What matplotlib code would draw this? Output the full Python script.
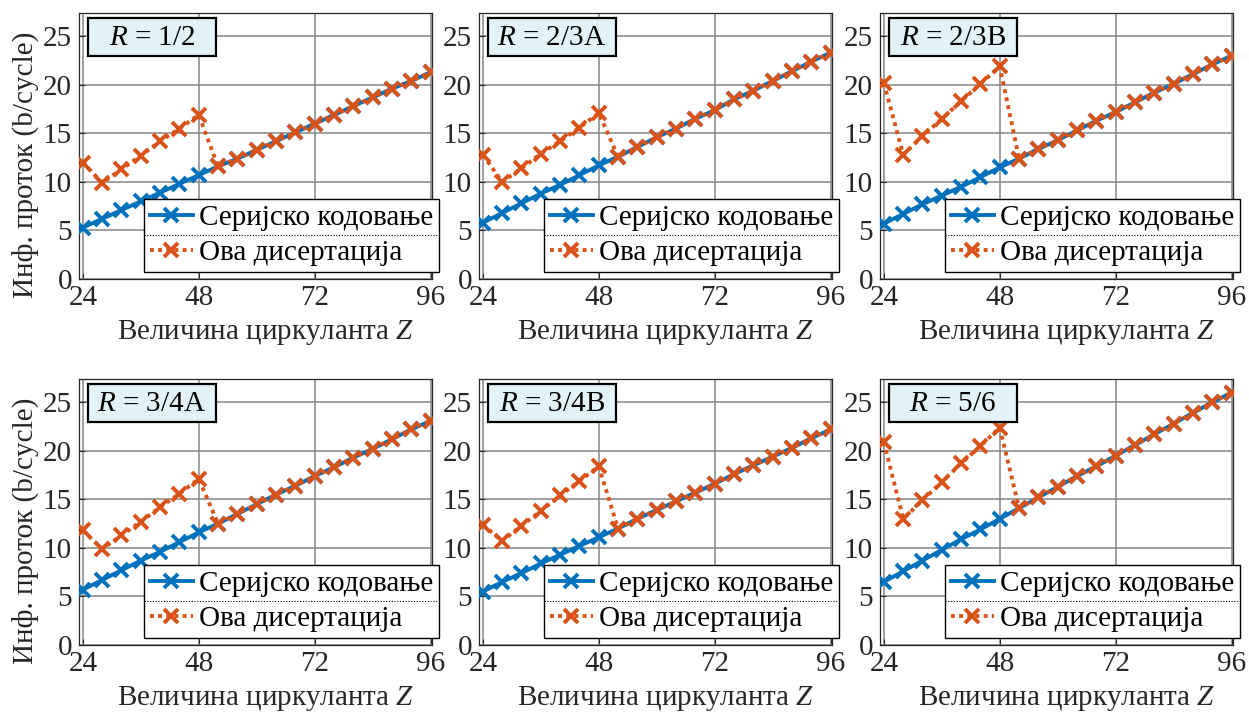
import matplotlib
matplotlib.use("Agg")
import matplotlib.pyplot as plt
from matplotlib.lines import Line2D
from matplotlib.patches import Rectangle

plt.rcParams["font.family"] = ["Liberation Serif", "DejaVu Serif"]
plt.rcParams["mathtext.fontset"] = "custom"
plt.rcParams["mathtext.rm"] = "Liberation Serif"
plt.rcParams["mathtext.it"] = "Liberation Serif:italic"

# Circulant size Z
z_values = [24, 28, 32, 36, 40, 44, 48, 52, 56, 60, 64, 68, 72, 76, 80, 84, 88, 92, 96]

rate_labels = ["1/2", "2/3A", "2/3B", "3/4A", "3/4B", "5/6"]

# Throughput (b/cycle), serial decoding
serial_1_2 = [5.3, 6.2, 7.1, 8.0, 8.9, 9.8, 10.7, 11.6, 12.4, 13.3, 14.2, 15.1, 16.0, 16.9, 17.8, 18.7, 19.6, 20.4, 21.3]
serial_2_3a = [5.8, 6.8, 7.8, 8.8, 9.7, 10.7, 11.7, 12.6, 13.6, 14.6, 15.5, 16.5, 17.4, 18.5, 19.4, 20.4, 21.4, 22.4, 23.3]
serial_2_3b = [5.7, 6.7, 7.7, 8.6, 9.5, 10.5, 11.5, 12.4, 13.4, 14.3, 15.3, 16.3, 17.2, 18.2, 19.2, 20.1, 21.1, 22.1, 23.0]
serial_3_4a = [5.7, 6.7, 7.7, 8.7, 9.6, 10.6, 11.6, 12.5, 13.5, 14.5, 15.5, 16.4, 17.4, 18.3, 19.3, 20.2, 21.2, 22.2, 23.1]
serial_3_4b = [5.5, 6.5, 7.4, 8.4, 9.3, 10.2, 11.1, 12.0, 13.0, 13.9, 14.8, 15.7, 16.6, 17.6, 18.5, 19.4, 20.3, 21.3, 22.2]
serial_5_6 = [6.5, 7.6, 8.7, 9.8, 10.9, 11.9, 13.0, 14.1, 15.2, 16.3, 17.4, 18.4, 19.5, 20.6, 21.7, 22.8, 23.9, 25.0, 26.0]

# Throughput (b/cycle), this dissertation
ova_1_2 = [12.0, 9.9, 11.3, 12.7, 14.2, 15.5, 16.9, 11.6, 12.4, 13.3, 14.2, 15.1, 16.0, 16.9, 17.8, 18.7, 19.6, 20.4, 21.3]
ova_2_3a = [12.8, 10.0, 11.4, 12.9, 14.2, 15.6, 17.1, 12.6, 13.6, 14.6, 15.5, 16.5, 17.4, 18.5, 19.4, 20.4, 21.4, 22.4, 23.3]
ova_2_3b = [20.2, 12.8, 14.7, 16.5, 18.3, 20.1, 21.9, 12.4, 13.4, 14.3, 15.3, 16.3, 17.2, 18.2, 19.2, 20.1, 21.1, 22.1, 23.0]
ova_3_4a = [11.8, 9.9, 11.3, 12.7, 14.2, 15.6, 17.1, 12.5, 13.5, 14.5, 15.5, 16.4, 17.4, 18.3, 19.3, 20.2, 21.2, 22.2, 23.1]
ova_3_4b = [12.4, 10.7, 12.3, 13.8, 15.4, 16.9, 18.4, 12.0, 13.0, 13.9, 14.8, 15.7, 16.6, 17.6, 18.5, 19.4, 20.3, 21.3, 22.2]
ova_5_6 = [20.9, 13.0, 14.9, 16.8, 18.7, 20.5, 22.4, 14.1, 15.2, 16.3, 17.4, 18.4, 19.5, 20.6, 21.7, 22.8, 23.9, 25.0, 26.0]

serial_all = [serial_1_2, serial_2_3a, serial_2_3b, serial_3_4a, serial_3_4b, serial_5_6]
ova_all = [ova_1_2, ova_2_3a, ova_2_3b, ova_3_4a, ova_3_4b, ova_5_6]

x_ticks = [24, 48, 72, 96]
y_ticks = [0, 5, 10, 15, 20, 25]

label_serial = "Серијско кодовање"
label_ova = "Ова дисертација"
x_label = "Величина циркуланта $Z$"
y_label = "Инф. проток (b/cycle)"

BLUE = "#0072BD"
ORANGE = "#D95319"
INK = "#262626"
FS = 21

W, H = 1249, 717
fig = plt.figure(figsize=(W / 100, H / 100), dpi=100)

lefts = [79, 479, 880]
tops = [13, 379]
ax_w, ax_h = 353, 266

axes = []
for i in range(6):
    r, c = divmod(i, 3)
    x0 = lefts[c] / W
    y0 = 1 - (tops[r] + ax_h) / H
    ax = fig.add_axes([x0, y0, ax_w / W, ax_h / H])
    axes.append(ax)

    ax.plot(z_values, serial_all[i], color=BLUE, lw=2.8, marker="x", ms=10, mew=2.8,
            label=label_serial, zorder=3)
    ax.plot(z_values, ova_all[i], color=ORANGE, lw=2.8, ls=(0, (1, 1.1)), marker="x",
            ms=10, mew=2.8, label=label_ova, zorder=4)

    ax.set_xlim(23.2, 96.3)
    ax.set_ylim(0, 27.4)
    ax.set_xticks(x_ticks)
    ax.set_yticks(y_ticks)
    ax.grid(True, color="#858585", lw=1.1)
    ax.set_axisbelow(True)
    ax.tick_params(direction="in", length=4, width=0.8, labelsize=FS, colors=INK)
    ax.tick_params(axis="y", pad=5)
    ax.tick_params(axis="x", pad=4)
    for s in ax.spines.values():
        s.set_color(INK)
        s.set_linewidth(0.9)

    ax.set_xlabel(x_label, fontsize=FS, color=INK, labelpad=5)
    ax.xaxis.set_label_coords(0.528, -0.145)
    ax.xaxis.label.set_va("top")
    if c == 0:
        ax.set_ylabel(y_label, fontsize=FS, color=INK)
        ax.yaxis.set_label_coords(-0.112, 0.43)

    # rate tag in a fixed-size box at the upper left
    bx0, bx1 = 0.0255, 0.387
    by0, by1 = 0.839, 0.982
    ax.add_patch(Rectangle((bx0, by0), bx1 - bx0, by1 - by0, transform=ax.transAxes,
                           fc="#e3f2f7", ec="black", lw=1.6, zorder=10, clip_on=False))
    ax.text((bx0 + bx1) / 2, (by0 + by1) / 2 - 0.005, f"$R$ = {rate_labels[i]}",
            transform=ax.transAxes, fontsize=FS, ha="center", va="center", zorder=11)

    leg = ax.legend(loc="lower right", bbox_to_anchor=(1.02, 0.027), fontsize=FS,
                    frameon=True, fancybox=False, framealpha=1, edgecolor="black",
                    handlelength=1.45, handletextpad=0.22, borderpad=0.2,
                    labelspacing=0.3, borderaxespad=0.0)
    leg.get_frame().set_linewidth(1.0)
    leg.set_zorder(20)

fig.canvas.draw()
inv = fig.transFigure.inverted()
for ax in axes:
    leg = ax.get_legend()
    bb = leg.get_window_extent()
    (fx0, fy0), (fx1, fy1) = inv.transform([[bb.x0, bb.y0], [bb.x1, bb.y1]])
    ym = (fy0 + fy1) / 2
    fig.add_artist(Line2D([fx0, fx1], [ym, ym], transform=fig.transFigure,
                          color="black", lw=0.8, ls=(0, (1, 1.5)), zorder=30))

fig.savefig("out.png", dpi=100)
